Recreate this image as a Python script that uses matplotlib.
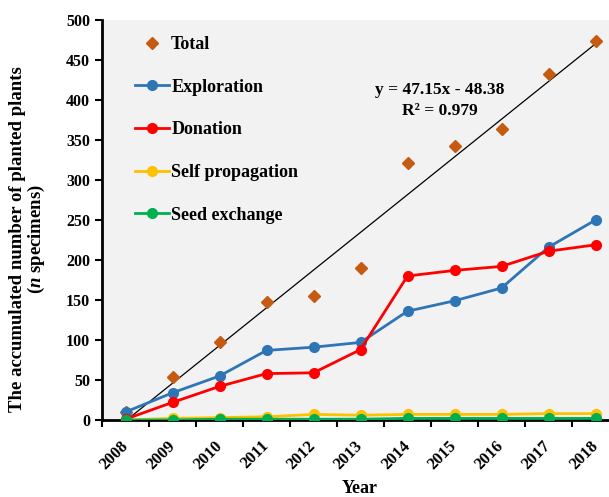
import matplotlib
matplotlib.use("Agg")
import matplotlib.pyplot as plt
import numpy as np

years = ["2008", "2009", "2010", "2011", "2012", "2013", "2014", "2015", "2016", "2017", "2018"]
total = [10, 54, 97, 147, 155, 190, 321, 343, 364, 432, 474]
exploration = [10, 34, 55, 87, 91, 97, 136, 149, 165, 216, 250]
donation = [1, 22, 42, 58, 59, 88, 180, 187, 192, 211, 219]
self_prop = [0, 2, 3, 4, 7, 6, 7, 7, 7, 8, 8]
seed_exchange = [0, 0, 1, 1, 1, 1, 2, 2, 2, 2, 2]
slope, intercept = 47.15, -48.38
r2 = 0.979

plt.rcParams['font.family'] = ['Liberation Serif', 'DejaVu Serif']
plt.rcParams['font.weight'] = 'bold'
plt.rcParams['mathtext.fontset'] = 'custom'
plt.rcParams['mathtext.rm'] = 'Liberation Serif:bold'
plt.rcParams['mathtext.it'] = 'Liberation Serif:bold:italic'
plt.rcParams['mathtext.bf'] = 'Liberation Serif:bold'

fig = plt.figure(figsize=(6.09, 4.97), dpi=100)
W, H = 609, 497
ax = fig.add_axes([102 / W, 1 - 420 / H, (619 - 102) / W, (420 - 20) / H])
ax.set_facecolor('#F2F2F2')

x = np.arange(len(years))
trend = slope * (x + 1) + intercept
ax.plot(x, trend, color='black', lw=0.9, zorder=2)

ax.plot(x, total, linestyle='none', marker='D', color='#C55A11', markersize=6, label='Total', zorder=3)
ax.plot(x, exploration, color='#2E75B6', lw=2, marker='o', markersize=7, label='Exploration', zorder=4)
ax.plot(x, donation, color='#FF0000', lw=2, marker='o', markersize=7, label='Donation', zorder=5)
ax.plot(x, self_prop, color='#FFC000', lw=2, marker='o', markersize=7, label='Self propagation', zorder=4)
ax.plot(x, seed_exchange, color='#00B050', lw=2, marker='o', markersize=7, label='Seed exchange', zorder=5)

ax.set_xlim(-0.5, 10.5)
ax.set_ylim(0, 500)
ax.set_yticks(np.arange(0, 501, 50))
ax.set_xticks(x)
ax.set_xticklabels(years, rotation=45, fontsize=12, fontweight='bold',
                   ha='right', va='center', rotation_mode='anchor')
ax.set_xticks(np.arange(-0.5, 10.6, 1), minor=True)
ax.tick_params(axis='x', which='major', length=0, pad=17)
ax.tick_params(axis='x', which='minor', length=5, width=1.5, direction='out')
ax.tick_params(axis='y', length=5, width=1.5, direction='out', labelsize=11.5)
for lab in ax.get_yticklabels():
    lab.set_fontweight('bold')

for s in ['top', 'right']:
    ax.spines[s].set_visible(False)
for s in ['left', 'bottom']:
    ax.spines[s].set_linewidth(2)
    ax.spines[s].set_color('black')

ax.set_xlabel('Year', fontsize=13, fontweight='bold', labelpad=0)
ax.xaxis.set_label_coords((360 - 102) / (619 - 102), -(480 - 420) / 400)
ax.set_ylabel("The accumulated number of planted plants\n($\\mathit{n}$ specimens)",
              fontsize=13.5, fontweight='bold', linespacing=1.0)
ax.yaxis.set_label_coords(-(102 - 47) / 517, (420 - 239) / 400)

t1 = fig.text(440 / W, 1 - 90 / H, f"y = {slope}x - {abs(intercept)}", fontsize=12.5,
              fontweight='bold', ha='center', va='center')
t2 = fig.text(440 / W, 1 - 111 / H, "R\u00b2 = " + f"{r2}", fontsize=12.5,
              fontweight='bold', ha='center', va='center')

leg = ax.legend(loc='upper left', bbox_to_anchor=(0.05, 0.978), frameon=False,
                prop={'family': 'Liberation Serif', 'weight': 'bold', 'size': 13},
                labelspacing=1.42, handlelength=1.9, handletextpad=0.1, borderaxespad=0)

fig.savefig('out.png', dpi=100)
